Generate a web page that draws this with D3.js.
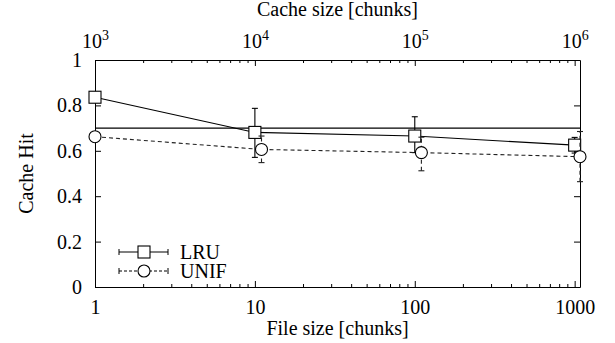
<!DOCTYPE html>
<html>
<head>
<meta charset="utf-8">
<script src="https://cdn.jsdelivr.net/npm/d3@7"></script>
<style>
  body { margin: 0; background: #fff; }
  svg text { font-family: "Liberation Serif", "DejaVu Serif", serif; fill: #000; }
</style>
</head>
<body>
<svg id="chart" width="615" height="343"></svg>
<script>

// data
var lruX   = [1, 10, 100, 1000];
var lruY   = [0.836, 0.681, 0.665, 0.625];
var lruLo  = [0.825, 0.571, 0.592, 0.590];
var lruHi  = [0.848, 0.787, 0.750, 0.659];

var unifX  = [1, 11, 110, 1100];
var unifY  = [0.662, 0.606, 0.592, 0.574];
var unifLo = [0.645, 0.548, 0.512, 0.464];
var unifHi = [0.680, 0.665, 0.660, 0.685];

var refLine = 0.7;

var bottomTicks = [1, 10, 100, 1000];
var topTicks    = [3, 4, 5, 6];          // exponents of cache size
var yTicks      = [0, 0.2, 0.4, 0.6, 0.8, 1];

var FONT = "'Liberation Serif', 'DejaVu Serif', serif";
var FS = 20;

var margin = {left: 95, right: 35, top: 60, bottom: 56};
var W = 615, H = 343;
var innerWidth = W - margin.left - margin.right;
var innerHeight = H - margin.top - margin.bottom;

var svg = d3.select("#chart")
            .append("g")
            .attr("transform", "translate(" + margin.left + "," + margin.top + ")");

var xScale = d3.scaleLog().domain([1, 1080]).range([0, innerWidth]).clamp(true);
var yScale = d3.scaleLinear().domain([0, 1]).range([innerHeight, 0]);

// minor ticks for the log axes
var minor = [];
for (var d = 1; d <= 1000; d *= 10) {
    for (var k = 2; k <= 9; k++) {
        if (d * k <= 1080) minor.push(d * k);
    }
}

// bottom axis
svg.append("g")
   .attr("transform", "translate(0," + innerHeight + ")")
   .call(d3.axisBottom(xScale).tickValues(minor).tickSize(-3).tickFormat(""))
   .call(g => g.select(".domain").remove());

svg.append("g")
   .attr("transform", "translate(0," + innerHeight + ")")
   .call(d3.axisBottom(xScale).tickValues(bottomTicks).tickSize(-6).tickSizeOuter(0)
           .tickPadding(13).tickFormat(d3.format("d")))
   .call(g => g.selectAll("text").attr("font-size", FS));

// top axis (cache size = file size * 1000)
svg.append("g")
   .call(d3.axisTop(xScale).tickValues(minor).tickSize(-3).tickFormat(""))
   .call(g => g.select(".domain").remove());

var topAxis = svg.append("g")
   .call(d3.axisTop(xScale).tickValues(topTicks.map(e => Math.pow(10, e - 3))).tickSize(-6)
           .tickSizeOuter(0).tickFormat(""));

topAxis.selectAll(".tick").each(function(d, i) {
    var t = d3.select(this).append("text")
              .attr("y", -12)
              .attr("text-anchor", "middle")
              .attr("font-size", FS);
    t.append("tspan").text("10");
    t.append("tspan").attr("font-size", 14).attr("dy", -8).text(topTicks[i]);
});

// left and right axes
svg.append("g")
   .call(d3.axisLeft(yScale).tickValues(yTicks).tickSize(-6).tickSizeOuter(0)
           .tickPadding(13).tickFormat(d => d === 0 || d === 1 ? d : d.toFixed(1)))
   .call(g => g.selectAll("text").attr("font-size", FS));

svg.append("g")
   .attr("transform", "translate(" + innerWidth + ",0)")
   .call(d3.axisRight(yScale).tickValues(yTicks).tickSize(-6).tickSizeOuter(0).tickFormat(""));

svg.selectAll(".domain, .tick line").attr("stroke", "#000");

// axis titles
svg.append("text")
   .attr("x", innerWidth / 2).attr("y", innerHeight + 48)
   .attr("text-anchor", "middle").attr("font-size", FS)
   .text("File size [chunks]");

svg.append("text")
   .attr("x", innerWidth / 2).attr("y", -44)
   .attr("text-anchor", "middle").attr("font-size", FS)
   .text("Cache size [chunks]");

svg.append("text")
   .attr("transform", "translate(-62," + innerHeight / 2 + ") rotate(-90)")
   .attr("text-anchor", "middle").attr("font-size", FS)
   .text("Cache Hit");

// reference line
svg.append("line")
   .attr("x1", 0).attr("x2", innerWidth)
   .attr("y1", yScale(refLine)).attr("y2", yScale(refLine))
   .attr("stroke", "#000").attr("stroke-width", 1.2);

function plot_series(xs, ys, lo, hi, dash, color, marker) {

    var data = xs.map((x, i) => ({x: x, y: ys[i], lo: lo[i], hi: hi[i]}));

    var line = d3.line()
                 .x(d => xScale(d.x))
                 .y(d => yScale(d.y));

    svg.append("path")
       .datum(data)
       .attr("d", line)
       .attr("fill", "none")
       .attr("stroke", color)
       .attr("stroke-width", 1.1)
       .attr("stroke-dasharray", dash);

    var eb = svg.selectAll(null).data(data).enter().append("g")
                .attr("stroke", color).attr("stroke-width", 1.1)
                .attr("stroke-dasharray", dash);
    eb.append("line")
      .attr("x1", d => xScale(d.x)).attr("x2", d => xScale(d.x))
      .attr("y1", d => yScale(d.lo)).attr("y2", d => yScale(d.hi));
    eb.append("line")
      .attr("x1", d => xScale(d.x) - 3).attr("x2", d => xScale(d.x) + 3)
      .attr("y1", d => yScale(d.lo)).attr("y2", d => yScale(d.lo))
      .attr("stroke-dasharray", "none");
    eb.append("line")
      .attr("x1", d => xScale(d.x) - 3).attr("x2", d => xScale(d.x) + 3)
      .attr("y1", d => yScale(d.hi)).attr("y2", d => yScale(d.hi))
      .attr("stroke-dasharray", "none");

    draw_marker(svg.selectAll(null).data(data).enter(), marker,
                d => xScale(d.x), d => yScale(d.y));
}

function draw_marker(sel, marker, fx, fy) {
    if (marker == "square") {
        sel.append("rect")
           .attr("x", d => fx(d) - 6).attr("y", d => fy(d) - 6)
           .attr("width", 12).attr("height", 12)
           .attr("fill", "#fff").attr("stroke", "#000").attr("stroke-width", 1.1);
    } else {
        sel.append("circle")
           .attr("cx", fx).attr("cy", fy).attr("r", 6)
           .attr("fill", "#fff").attr("stroke", "#000").attr("stroke-width", 1.1);
    }
}

plot_series(lruX, lruY, lruLo, lruHi, null, "#000", "square");
plot_series(unifX, unifY, unifLo, unifHi, "4,3", "#222", "circle");

// legend
var legend = [
    {name: "LRU", dash: null, marker: "square", y: 252 - margin.top},
    {name: "UNIF", dash: "3,2", marker: "circle", y: 271 - margin.top}
];

var lg = svg.selectAll(".legend").data(legend).enter().append("g").attr("class", "legend");
lg.append("line")
  .attr("x1", 24).attr("x2", 73).attr("y1", d => d.y).attr("y2", d => d.y)
  .attr("stroke", "#000").attr("stroke-width", 1.1).attr("stroke-dasharray", d => d.dash);
lg.append("line")
  .attr("x1", 24).attr("x2", 24).attr("y1", d => d.y - 3).attr("y2", d => d.y + 3)
  .attr("stroke", "#000");
lg.append("line")
  .attr("x1", 73).attr("x2", 73).attr("y1", d => d.y - 3).attr("y2", d => d.y + 3)
  .attr("stroke", "#000");
lg.each(function(d) {
    draw_marker(d3.select(this), d.marker, () => 49, () => d.y);
});
lg.append("text")
  .attr("x", 85).attr("y", d => d.y + 7)
  .attr("font-size", FS)
  .text(d => d.name);

// all text in a Times-like face, as in the reference
d3.selectAll("#chart g").attr("font-family", FONT);

</script>
</body>
</html>
